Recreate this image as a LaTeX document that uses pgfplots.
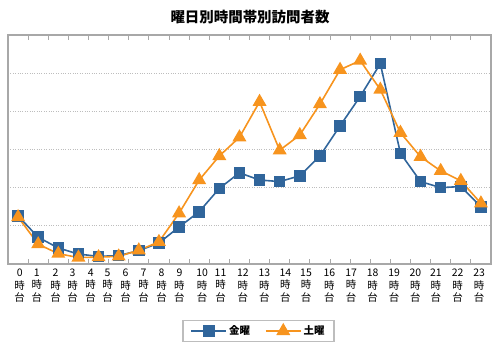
\documentclass[border=0pt]{standalone}
\usepackage{fontspec}
\setmainfont{Noto Sans CJK JP}
\usepackage{pgfplots}
\pgfplotsset{compat=1.18}
\definecolor{fri}{HTML}{30659B}
\definecolor{sat}{HTML}{F7941E}
\definecolor{frame}{HTML}{A8A8A8}
\definecolor{gridc}{HTML}{BDBDBD}
\begin{document}
\begin{tikzpicture}
\useasboundingbox (0,0) rectangle (500bp,350bp);
\node[font=\bfseries\fontsize{14.5}{16}\selectfont] at (250bp,332.5bp) {曜日別時間帯別訪問者数};
\begin{axis}[
  at={(8bp,86bp)}, anchor=south west,
  scale only axis, width=483bp, height=229bp,
  xmin=-0.5, xmax=23.5, ymin=0, ymax=6,
  axis line style={frame, line width=1.3pt},
  xtick={0.08,0.93,1.86,2.71,3.61,4.45,5.34,6.24,7.13,8.02,9.15,10.06,11.17,12.24,13.28,14.31,15.47,16.55,17.62,18.69,19.74,20.76,21.84,22.91},
  xticklabels={{0\\時\\台},{1\\時\\台},{2\\時\\台},{3\\時\\台},{4\\時\\台},{5\\時\\台},{6\\時\\台},{7\\時\\台},{8\\時\\台},{9\\時\\台},{10\\時\\台},{11\\時\\台},{12\\時\\台},{13\\時\\台},{14\\時\\台},{15\\時\\台},{16\\時\\台},{17\\時\\台},{18\\時\\台},{19\\時\\台},{20\\時\\台},{21\\時\\台},{22\\時\\台},{23\\時\\台}},
  xticklabel style={align=center, font=\fontsize{10.5}{12.8}\selectfont, inner sep=1pt, yshift=-3.5bp},
  major x tick style={draw=none},
  minor xtick={0.5,1.5,...,22.5},
  minor x tick style={frame, line width=0.8pt},
  minor tick length=5bp,
  tick align=inside,
  ytick={1,2,3,4,5}, yticklabels={},
  major y tick style={draw=none},
  ymajorgrids, grid style={gridc, dotted, line width=1.2pt},
  clip=false,
  legend columns=2,
  legend style={at={(0.5186,-0.2926)}, anchor=center, draw=gridc, line width=1.2pt,
    font=\bfseries\fontsize{10.5}{12}\selectfont, inner xsep=7.5bp, inner ysep=3bp,
    /tikz/every even column/.append style={column sep=13bp}},
  legend image code/.code={\draw[mark repeat=2,mark phase=2] plot coordinates {(0bp,0bp) (17.5bp,0bp) (35bp,0bp)};},
]
\addplot[fri, line width=1.6pt, mark=square*, mark size=5bp, mark options={solid}] coordinates {
(0,1.26) (1,0.70) (2,0.42) (3,0.26) (4,0.20) (5,0.22) (6,0.35) (7,0.55) (8,0.97) (9,1.37) (10,1.98) (11,2.39)
(12,2.20) (13,2.16) (14,2.31) (15,2.83) (16,3.62) (17,4.39) (18,5.25) (19,2.90) (20,2.16) (21,2.00) (22,2.03) (23,1.50)};
\addlegendentry{金曜}
\addplot[sat, line width=1.6pt, mark=triangle*, mark size=6.5bp, mark options={solid}] coordinates {
(0,1.23) (1,0.52) (2,0.27) (3,0.17) (4,0.18) (5,0.20) (6,0.36) (7,0.58) (8,1.33) (9,2.20) (10,2.83) (11,3.32)
(12,4.25) (13,2.98) (14,3.38) (15,4.19) (16,5.09) (17,5.33) (18,4.57) (19,3.44) (20,2.81) (21,2.44) (22,2.18) (23,1.59)};
\addlegendentry{土曜}
\end{axis}
\end{tikzpicture}
\end{document}
